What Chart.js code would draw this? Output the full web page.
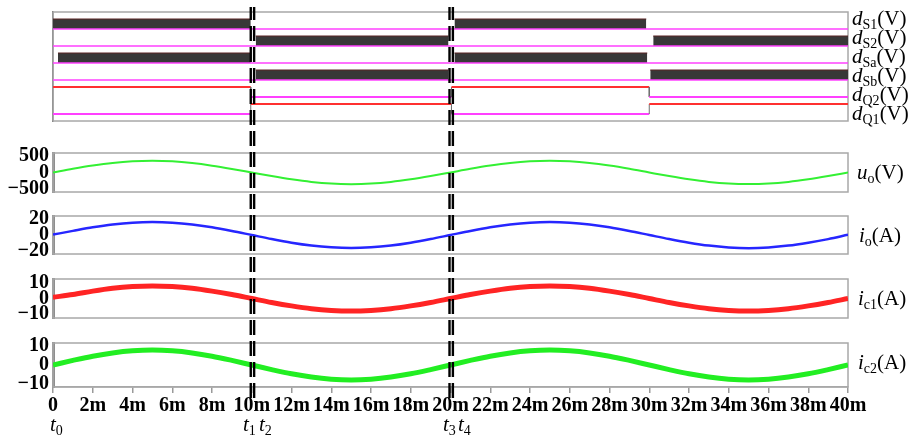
<!DOCTYPE html>
<html>
<head>
<meta charset="utf-8">
<script src="https://cdn.jsdelivr.net/npm/chart.js@4.4.1/dist/chart.umd.min.js"></script>
<style>
body { margin: 0; background: #fff; }
#wrap { position: relative; width: 911px; height: 436px; overflow: hidden; font-family: "Liberation Serif", "Times New Roman", serif; }
#wrap canvas { position: absolute; left: 0; }
.lbl { position: absolute; font-size: 21px; line-height: 1; white-space: nowrap; color: #000; transform: translateY(-50%); }
.lbl sub { font-size: 14px; vertical-align: -4px; line-height: 0; }
</style>
</head>
<body>
<div id="wrap">
  <canvas id="dig" width="911" height="133" style="top:0px"></canvas>
  <canvas id="uo" width="911" height="71" style="top:137px"></canvas>
  <canvas id="io" width="911" height="70" style="top:200px"></canvas>
  <canvas id="ic1" width="911" height="71" style="top:263px"></canvas>
  <canvas id="ic2" width="911" height="96" style="top:327px"></canvas>
  <canvas id="marks" width="911" height="391" style="top:7px;z-index:5"></canvas>

  <div class="lbl" style="left:852px;top:18px"><i>d</i><sub>S1</sub>(V)</div>
  <div class="lbl" style="left:852px;top:37px"><i>d</i><sub>S2</sub>(V)</div>
  <div class="lbl" style="left:852px;top:56px"><i>d</i><sub>Sa</sub>(V)</div>
  <div class="lbl" style="left:852px;top:75px"><i>d</i><sub>Sb</sub>(V)</div>
  <div class="lbl" style="left:852px;top:94px"><i>d</i><sub>Q2</sub>(V)</div>
  <div class="lbl" style="left:852px;top:113px"><i>d</i><sub>Q1</sub>(V)</div>

  <div class="lbl" style="left:857px;top:172px"><i>u</i><sub>o</sub>(V)</div>
  <div class="lbl" style="left:859px;top:235px"><i>i</i><sub>o</sub>(A)</div>
  <div class="lbl" style="left:858px;top:298px"><i>i</i><sub>c1</sub>(A)</div>
  <div class="lbl" style="left:858px;top:362px"><i>i</i><sub>c2</sub>(A)</div>

  <div class="lbl" style="left:50px;top:424px"><i>t</i><sub>0</sub></div>
  <div class="lbl" style="left:243px;top:424px"><i>t</i><sub>1</sub></div>
  <div class="lbl" style="left:259px;top:424px"><i>t</i><sub>2</sub></div>
  <div class="lbl" style="left:443px;top:424px"><i>t</i><sub>3</sub></div>
  <div class="lbl" style="left:458px;top:424px"><i>t</i><sub>4</sub></div>
</div>
<script>
// time base in ms
const tMs = [0,1,2,3,4,5,6,7,8,9,10,11,12,13,14,15,16,17,18,19,20,
             21,22,23,24,25,26,27,28,29,30,31,32,33,34,35,36,37,38,39,40];

const uoV = [0,112,212,292,343,360,343,291,211,111,0,-111,-211,-291,-342,-358,-342,-291,-211,-111,
             0,112,212,292,343,360,343,292,212,112,0,-110,-210,-290,-341,-357,-341,-290,-210,-110,0];
const ioA = [0.5,5.2,9.7,13.3,15.6,16.4,15.6,13.3,9.7,5.1,0,-5.1,-9.7,-13.3,-15.6,-16.5,-15.6,-13.3,-9.7,-5.1,
             0,5.1,9.7,13.3,15.6,16.4,15.6,13.3,9.7,5.1,0,-5.1,-9.7,-13.4,-15.7,-16.6,-15.7,-13.4,-9.7,-5.2,0.3];
const ic1A = [0.8,2.5,4.7,6.5,7.6,8.0,7.6,6.5,4.7,2.5,0,-2.5,-4.7,-6.5,-7.6,-8.0,-7.6,-6.5,-4.7,-2.5,
              0,2.5,4.7,6.5,7.6,8.0,7.6,6.5,4.7,2.5,0,-2.5,-4.7,-6.5,-7.6,-8.0,-7.6,-6.5,-4.7,-2.5,0];
const ic2A = [0,2.4,4.6,6.3,7.4,7.8,7.4,6.3,4.6,2.4,0,-2.4,-4.6,-6.3,-7.4,-7.8,-7.4,-6.3,-4.6,-2.4,
              0,2.4,4.6,6.3,7.4,7.8,7.4,6.3,4.6,2.4,0,-2.4,-4.6,-6.3,-7.4,-7.8,-7.4,-6.3,-4.6,-2.4,0];

const xTicks = [0,2,4,6,8,10,12,14,16,18,20,22,24,26,28,30,32,34,36,38,40];
const uoTicks = [-500,0,500];
const ioTicks = [-20,0,20];
const icTicks = [-10,0,10];

// switching instants t1..t4 (ms)
const tEvents = [9.95,10.12,19.95,20.12];

// gate signals: intervals (ms) where each one is high
const dS1High = [[0,9.95],[20.2,29.85]];
const dS2High = [[10.2,19.9],[30.2,40]];
const dSaHigh = [[0.25,9.95],[20.2,29.9]];
const dSbHigh = [[10.2,19.9],[30.05,40]];
const dQ2High = [[0,9.95],[20.05,30]];
const dQ1High = [[9.95,20.05],[30,40]];

const F = '"Liberation Serif", "Times New Roman", serif';
const MAGENTA = '#ff40ff', RED = '#ff3030';

const framePlugin = {
  id: 'frame',
  beforeDatasetsDraw(chart, args, o) {
    const a = chart.chartArea, c = chart.ctx;
    c.save();
    c.strokeStyle = o.color || '#a8a8a8';
    c.lineWidth = o.width || 1.5;
    c.strokeRect(a.left, a.top, a.right - a.left, a.bottom - a.top);
    c.restore();
  }
};

function yAxis(min, max, ticks, showLabels, borderColor, borderWidth) {
  return {
    min: min, max: max,
    afterFit: s => { s.width = 53; },
    afterBuildTicks: s => { s.ticks = ticks.map(v => ({value: v})); },
    ticks: {
      display: showLabels, autoSkip: false, padding: 4, color: '#000',
      font: {family: F, weight: 'bold', size: 20},
      callback: v => String(v).replace('-', '\u2212')
    },
    grid: {display: false, drawTicks: false},
    border: {display: true, color: borderColor, width: borderWidth}
  };
}

function baseOptions(y, x, padBottom) {
  return {
    responsive: false, animation: false, devicePixelRatio: 1,
    layout: {padding: {top: 12, bottom: padBottom, left: 0, right: 63}},
    plugins: {legend: {display: false}, tooltip: {enabled: false}, frame: {}},
    scales: {x: x, y: y}
  };
}

const hiddenX = {type: 'linear', min: 0, max: 40, display: false};

function wave(id, values, color, width, yMin, yMax, ticks) {
  new Chart(document.getElementById(id), {
    type: 'line',
    data: {
      datasets: [{
        data: values.map((v, i) => ({x: tMs[i], y: v})),
        borderColor: color, borderWidth: width,
        pointRadius: 0, cubicInterpolationMode: 'monotone', fill: false
      }]
    },
    options: baseOptions(yAxis(yMin, yMax, ticks, true, '#8f8f8f', 3), hiddenX, 12),
    plugins: [framePlugin]
  });
}

wave('uo', uoV, '#33f033', 2, -600, 600, uoTicks);
wave('io', ioA, '#2626ff', 2.5, -24, 24, ioTicks);
wave('ic1', ic1A, '#ff2424', 5, -12.4, 12.4, icTicks);

// bottom panel carries the time axis
new Chart(document.getElementById('ic2'), {
  type: 'line',
  data: {
    datasets: [{
      data: ic2A.map((v, i) => ({x: tMs[i], y: v})),
      borderColor: '#22ee22', borderWidth: 5,
      pointRadius: 0, cubicInterpolationMode: 'monotone', fill: false
    }]
  },
  options: baseOptions(yAxis(-11.5, 11.5, icTicks, true, '#8f8f8f', 3), {
    type: 'linear', min: 0, max: 40,
    afterBuildTicks: s => { s.ticks = xTicks.map(v => ({value: v})); },
    afterFit: s => { s.height = 36; },
    ticks: {
      autoSkip: false, maxRotation: 0, minRotation: 0, padding: 1, color: '#000',
      font: {family: F, weight: 'bold', size: 20},
      callback: v => v === 0 ? '0' : v + 'm'
    },
    grid: {drawOnChartArea: false, drawTicks: true, tickLength: 6, color: '#9a9a9a', lineWidth: 1.5},
    border: {display: true, color: '#a8a8a8', width: 1.5}
  }, 0),
  plugins: [framePlugin]
});

// gate signal panel
const gateHigh = [dS1High, dS2High, dSaHigh, dSbHigh, dQ2High, dQ1High];
const gatePwm = [true, true, true, true, false, false];
const gateBase = [92, 75, 58, 41, 24, 7];   // trace offsets in the panel
const gateSwing = 10;

const gateSets = [];
gateHigh.forEach((intervals, k) => {
  const lo = gateBase[k], hi = lo + gateSwing;
  if (gatePwm[k]) {
    gateSets.push({
      data: [{x: 0, y: lo}, {x: 40, y: lo}],
      borderColor: MAGENTA, borderWidth: 1.5, pointRadius: 0, order: 1
    });
    intervals.forEach(iv => {
      gateSets.push({
        data: [{x: iv[0], y: hi}, {x: iv[1], y: hi}],
        borderColor: '#5a2424', borderWidth: 1,
        backgroundColor: '#383838', fill: {value: lo},
        pointRadius: 0, order: 2
      });
    });
  } else {
    const pts = [];
    let t = 0;
    intervals.forEach(iv => {
      if (iv[0] > t) { pts.push({x: t, y: lo}, {x: iv[0], y: lo}); }
      pts.push({x: iv[0], y: hi}, {x: iv[1], y: hi});
      t = iv[1];
    });
    if (t < 40) pts.push({x: t, y: lo}, {x: 40, y: lo});
    gateSets.push({
      data: pts, borderWidth: 1.8, pointRadius: 0, order: 1,
      segment: {
        borderColor: c => c.p0.parsed.x === c.p1.parsed.x ? '#707070'
          : (c.p0.parsed.y > lo + 1 ? RED : MAGENTA),
        borderWidth: c => c.p0.parsed.x === c.p1.parsed.x ? 1 : 1.8
      }
    });
  }
});

new Chart(document.getElementById('dig'), {
  type: 'line',
  data: {datasets: gateSets},
  options: baseOptions(yAxis(0, 109, [], false, '#606060', 1.5), hiddenX, 12),
  plugins: [framePlugin]
});

// dashed double markers at t1..t4 across all panels
new Chart(document.getElementById('marks'), {
  type: 'line',
  data: {
    datasets: tEvents.map(t => ({
      data: [{x: t, y: 0}, {x: t, y: 1}],
      borderColor: '#000', borderWidth: 2.4, borderDash: [15, 6], pointRadius: 0
    }))
  },
  options: {
    responsive: false, animation: false, devicePixelRatio: 1,
    layout: {padding: {top: 0, bottom: 0, left: 53, right: 63}},
    plugins: {legend: {display: false}, tooltip: {enabled: false}},
    scales: {
      x: {type: 'linear', min: 0, max: 40, display: false},
      y: {min: 0, max: 1, display: false}
    }
  }
});
</script>
</body>
</html>
